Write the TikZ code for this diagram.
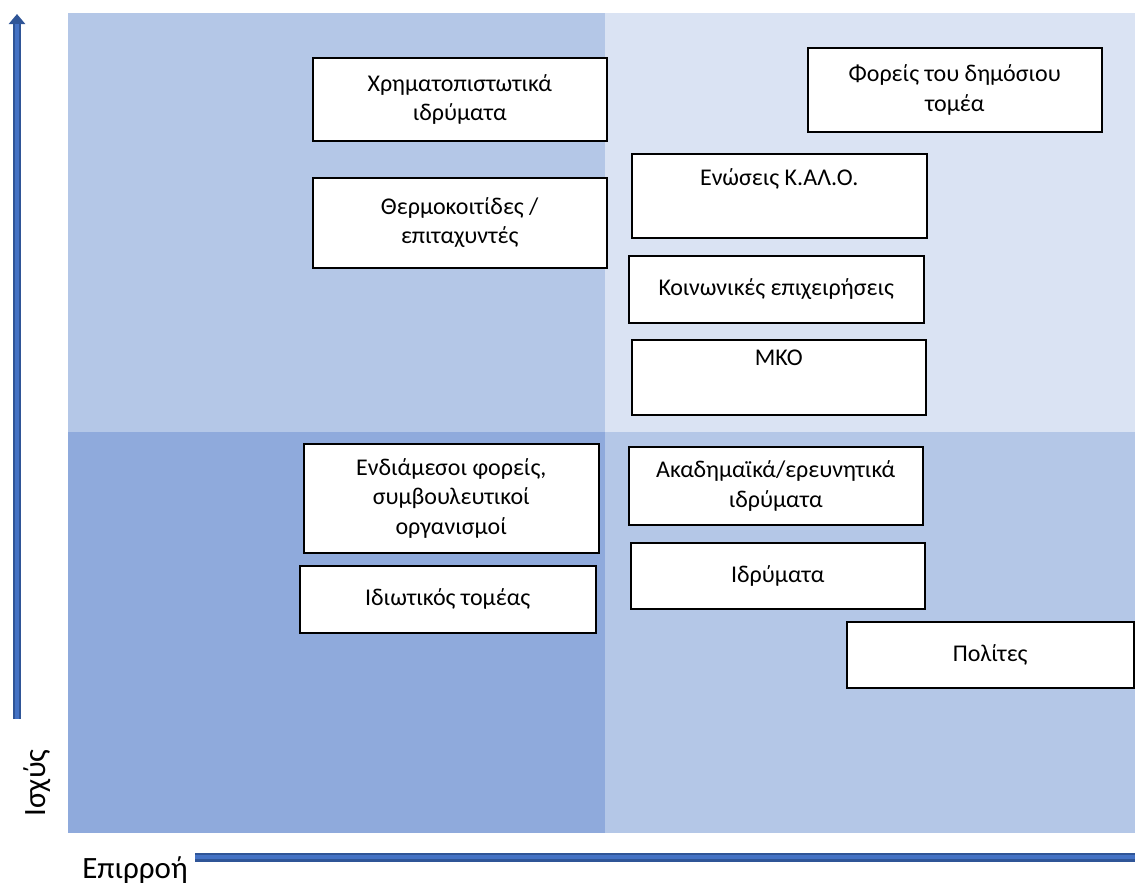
\documentclass[tikz,border=0pt]{standalone}
\usepackage{fontspec}
\setmainfont{Carlito}
\usepackage{tikz}
\usetikzlibrary{positioning,arrows.meta}

\definecolor{quadTL}{HTML}{B4C7E7}
\definecolor{quadTR}{HTML}{DAE3F3}
\definecolor{quadBL}{HTML}{8FAADC}
\definecolor{quadBR}{HTML}{B4C7E7}
\definecolor{axisdark}{HTML}{2F5597}
\definecolor{axislight}{HTML}{4472C4}

\tikzset{
  actor/.style={draw=black,line width=1.5pt,fill=white,align=center,anchor=north west,
    inner sep=2pt,font=\fontsize{24pt}{29.5pt}\selectfont},
  axislabel/.style={font=\fontsize{31pt}{34pt}\selectfont,inner sep=0pt}
}

\begin{document}
\begin{tikzpicture}[x=1pt,y=-1pt]
    \useasboundingbox (0,0) rectangle (1135,884);
    % quadrants
    \fill[quadTL] (68,13) rectangle (605,432);
    \fill[quadTR] (605,13) rectangle (1135,432);
    \fill[quadBL] (68,432) rectangle (605,833);
    \fill[quadBR] (605,432) rectangle (1135,833);

    % axes
    \coordinate (ybot) at (17,719);
    \coordinate (ytop) at (17,14);
    \coordinate (yneck) at (17,24);
    \coordinate (xleft) at (195,857);
    \coordinate (xright) at (1135,857);
    \draw[axisdark,line width=8pt,-{Triangle[width=16pt,length=10pt]}] (ybot) -- (ytop);
    \draw[axislight,line width=3.5pt] (ybot) -- (yneck);
    \draw[axisdark,line width=9pt] (xleft) -- (xright);
    \draw[axislight,line width=4pt] (xleft) -- (xright);
    \node[axislabel,rotate=90] (power) at (37,783) {Ισχύς};
    \node[axislabel] (influence) at (135,870) {Επιρροή};

    % stakeholders
    \node[actor,minimum width=294pt,minimum height=83pt] (finance) at (312,57) {Χρηματοπιστωτικά\\ιδρύματα};
    \node[actor,minimum width=294pt,minimum height=84pt] (public) at (807,47) {Φορείς του δημόσιου\\τομέα};
    \node[actor,minimum width=294pt,minimum height=90pt] (incub) at (312,177) {Θερμοκοιτίδες /\\επιταχυντές};
    \node[actor,minimum width=295pt,minimum height=84pt] (kalo) at (631,153) {Ενώσεις Κ.ΑΛ.Ο.\\\strut};
    \node[actor,minimum width=295pt,minimum height=67pt] (social) at (628,255) {Κοινωνικές επιχειρήσεις};
    \node[actor,minimum width=294pt,minimum height=75pt] (ngo) at (631,339) {ΜΚΟ\\\strut};
    \node[actor,minimum width=295pt,minimum height=109pt] (interm) at (303,443) {Ενδιάμεσοι φορείς,\\συμβουλευτικοί\\οργανισμοί};
    \node[actor,minimum width=296pt,minimum height=67pt] (private) at (299,565) {Ιδιωτικός τομέας};
    \node[actor,minimum width=294pt,minimum height=78pt] (academic) at (628,446) {Ακαδημαϊκά/ερευνητικά\\ιδρύματα};
    \node[actor,minimum width=294pt,minimum height=66pt] (found) at (630,542) {Ιδρύματα};
    \node[actor,minimum width=287pt,minimum height=66pt] (citizens) at (846,621) {Πολίτες};
  \end{tikzpicture}
\end{document}
